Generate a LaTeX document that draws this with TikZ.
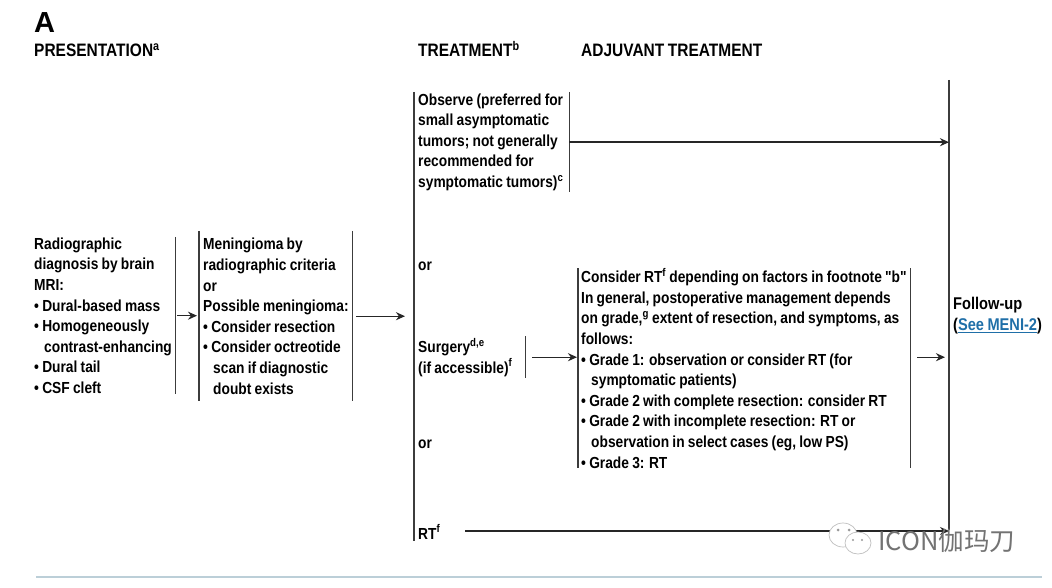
\documentclass[tikz,border=0pt]{standalone}
\usepackage{fontspec}
\setmainfont[FakeStretch=0.86,WordSpace=0.85,Ligatures=TeXOff]{Liberation Sans}
\newfontfamily\panelfont{Liberation Sans}
\newfontfamily\cjkfont{Noto Sans CJK SC}
\usetikzlibrary{arrows.meta,positioning,calc}
\definecolor{barcol}{HTML}{3C3C3C}
\definecolor{linkcol}{HTML}{1F6FA8}
\definecolor{rulecol}{HTML}{BCCFD8}
\newcommand{\bodyfont}{\fontsize{16}{20.6}\selectfont\bfseries}
\newcommand{\sps}[1]{\textsuperscript{#1}}
\newcommand{\ind}{\hspace*{10pt}}
\tikzset{
  barbox/.style={inner sep=0pt, anchor=north west, align=flush left, font=\bodyfont},
  plaintext/.style={inner sep=0pt, anchor=west, align=left, font=\bodyfont},
  headtext/.style={inner sep=0pt, anchor=base west, font=\fontsize{18}{20}\selectfont\bfseries},
  bar/.style={draw=barcol, line width=1.2pt},
  flow/.style={-{Stealth[length=9pt,width=8pt]}, draw=black!85, line width=1.4pt}
}
\begin{document}
\begin{tikzpicture}[>=Stealth, x=1pt, y=-1pt]
\useasboundingbox (0,0) rectangle (1052,588);
\node[inner sep=0pt, anchor=west, font=\fontsize{29}{30}\panelfont\bfseries] (panel) at (34,23) {A};
\node[headtext] (headpres) at (34,57) {PRESENTATION\sps{a}};
\node[headtext] (headtreat) at (418,57) {TREATMENT\sps{b}};
\node[headtext] (headadj) at (581,57) {ADJUVANT TREATMENT};
% boxes
\node[barbox, text width=141pt, minimum height=157pt] (present) at (34,237) {Radiographic\\diagnosis by brain\\MRI:\\• Dural-based mass\\• Homogeneously\\\ind contrast-enhancing\\• Dural tail\\• CSF cleft};
\node[barbox, text width=149pt, minimum height=170pt] (mening) at (203,231) {Meningioma by\\radiographic criteria\\or\\Possible meningioma:\\• Consider resection\\• Consider octreotide\\\ind scan if diagnostic\\\ind doubt exists};
\node[barbox, text width=151pt, minimum height=100pt] (observe) at (418,92) {Observe (preferred for\\small asymptomatic\\tumors; not generally\\recommended for\\symptomatic tumors)\sps{c}};
\node[barbox, text width=107pt, minimum height=42pt] (surgery) at (418,336) {Surgery\sps{d,e}\\(if accessible)\sps{f}};
\node[barbox, text width=329pt, minimum height=200pt] (adjuvant) at (581,268) {Consider RT\sps{f} depending on factors in footnote "b"\\In general, postoperative management depends\\on grade,\sps{g} extent of resection, and symptoms, as\\follows:\\• Grade 1: observation or consider RT (for\\\ind symptomatic patients)\\• Grade 2 with complete resection: consider RT\\• Grade 2 with incomplete resection: RT or\\\ind observation in select cases (eg, low PS)\\• Grade 3: RT};
\node[plaintext] (ortop) at (418,266) {or};
\node[plaintext] (orbot) at (418,444) {or};
\node[plaintext] (rt) at (418,532) {RT\sps{f}};
\node[plaintext, font=\fontsize{17}{21}\selectfont\bfseries] (followup) at (953,316) {Follow-up\\(\textcolor{linkcol}{\underline{See MENI-2}})};
% spines
\coordinate (treattop) at (414,92);
\coordinate (treatbot) at (414,541);
\coordinate (fuptop) at (949,80);
\coordinate (fupbot) at (949,530);
\coordinate (rtstart) at (465,531);
\draw[bar] (treattop) -- (treatbot);
\draw[bar] (fuptop) -- (fupbot);
\draw[bar] (present.north east) -- (present.south east);
\draw[bar] ([xshift=-4pt]mening.north west) -- ([xshift=-4pt]mening.south west);
\draw[bar] (mening.north east) -- (mening.south east);
\draw[bar] (observe.north east) -- (observe.south east);
\draw[bar] (surgery.north east) -- (surgery.south east);
\draw[bar] ([xshift=-3pt]adjuvant.north west) -- ([xshift=-3pt]adjuvant.south west);
\draw[bar] (adjuvant.north east) -- (adjuvant.south east);
% arrows
\draw[flow, shorten <=2pt, shorten >=2pt] (present.east) -- ([xshift=-4pt]present.east -| mening.west);
\draw[flow, shorten <=4pt, shorten >=9pt] (mening.east) -- (mening.east -| treatbot);
\draw[flow] (observe.east) -- (observe.east -| fuptop);
\draw[flow, shorten <=7pt, shorten >=1pt] (surgery.east) -- ([xshift=-3pt]surgery.east -| adjuvant.west);
\draw[flow, shorten <=7pt, shorten >=4pt] (surgery.east -| adjuvant.east) -- (surgery.east -| fuptop);
\draw[flow] (rtstart) -- (rtstart -| fupbot);
% bottom rule
\coordinate (ruleleft) at (36,577);
\coordinate (ruleright) at (1042,577);
\draw[draw=rulecol, line width=1.6pt] (ruleleft) -- (ruleright);
% watermark
\filldraw[fill=white, draw=black!25, line width=.7pt] (843,535) ellipse (14 and 12);
\filldraw[fill=white, draw=black!25, line width=.7pt] (858,543) ellipse (13 and 11);
\fill[black!40] (838,530) circle (1.5pt) (849,530) circle (1.5pt) (853,540) circle (1.2pt) (862,540) circle (1.2pt);
\node[inner sep=0pt, anchor=west, text=black!55, font=\fontsize{25.5}{26}\cjkfont] (mark) at (878,541) {ICON伽玛刀};
\end{tikzpicture}
\end{document}
